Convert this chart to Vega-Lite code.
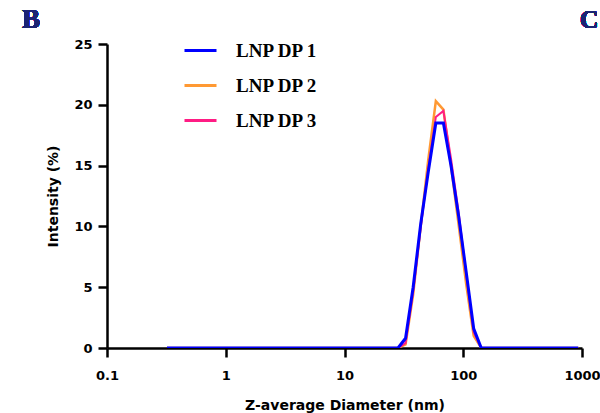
{
  "$schema": "https://vega.github.io/schema/vega-lite/v6.json",
  "width": 475,
  "height": 304,
  "autosize": {"type": "none"},
  "padding": {"left": 107, "top": 44, "right": 18, "bottom": 65},
  "background": "white",
  "config": {"view": {"stroke": null}},
  "data": {"values": [
    {"size": 0.32, "intensity": 0, "series": "LNP DP 1"},
    {"size": 28.21, "intensity": 0, "series": "LNP DP 1"},
    {"size": 32.67, "intensity": 0.8, "series": "LNP DP 1"},
    {"size": 37.84, "intensity": 5.0, "series": "LNP DP 1"},
    {"size": 43.82, "intensity": 10.2, "series": "LNP DP 1"},
    {"size": 50.75, "intensity": 14.5, "series": "LNP DP 1"},
    {"size": 58.77, "intensity": 18.5, "series": "LNP DP 1"},
    {"size": 68.06, "intensity": 18.5, "series": "LNP DP 1"},
    {"size": 78.82, "intensity": 15.0, "series": "LNP DP 1"},
    {"size": 91.28, "intensity": 10.9, "series": "LNP DP 1"},
    {"size": 105.7, "intensity": 6.3, "series": "LNP DP 1"},
    {"size": 122.4, "intensity": 1.6, "series": "LNP DP 1"},
    {"size": 141.8, "intensity": 0, "series": "LNP DP 1"},
    {"size": 930, "intensity": 0, "series": "LNP DP 1"},
    {"size": 0.32, "intensity": 0, "series": "LNP DP 2"},
    {"size": 28.21, "intensity": 0, "series": "LNP DP 2"},
    {"size": 32.67, "intensity": 0.3, "series": "LNP DP 2"},
    {"size": 37.84, "intensity": 4.4, "series": "LNP DP 2"},
    {"size": 43.82, "intensity": 10.0, "series": "LNP DP 2"},
    {"size": 50.75, "intensity": 15.5, "series": "LNP DP 2"},
    {"size": 58.77, "intensity": 20.3, "series": "LNP DP 2"},
    {"size": 68.06, "intensity": 19.6, "series": "LNP DP 2"},
    {"size": 78.82, "intensity": 15.0, "series": "LNP DP 2"},
    {"size": 91.28, "intensity": 10.2, "series": "LNP DP 2"},
    {"size": 105.7, "intensity": 5.3, "series": "LNP DP 2"},
    {"size": 122.4, "intensity": 1.0, "series": "LNP DP 2"},
    {"size": 141.8, "intensity": 0, "series": "LNP DP 2"},
    {"size": 930, "intensity": 0, "series": "LNP DP 2"},
    {"size": 0.32, "intensity": 0, "series": "LNP DP 3"},
    {"size": 28.21, "intensity": 0, "series": "LNP DP 3"},
    {"size": 32.67, "intensity": 0.4, "series": "LNP DP 3"},
    {"size": 37.84, "intensity": 4.6, "series": "LNP DP 3"},
    {"size": 43.82, "intensity": 9.9, "series": "LNP DP 3"},
    {"size": 50.75, "intensity": 14.8, "series": "LNP DP 3"},
    {"size": 58.77, "intensity": 19.0, "series": "LNP DP 3"},
    {"size": 68.06, "intensity": 19.5, "series": "LNP DP 3"},
    {"size": 78.82, "intensity": 15.6, "series": "LNP DP 3"},
    {"size": 91.28, "intensity": 11.2, "series": "LNP DP 3"},
    {"size": 105.7, "intensity": 6.1, "series": "LNP DP 3"},
    {"size": 122.4, "intensity": 1.3, "series": "LNP DP 3"},
    {"size": 141.8, "intensity": 0, "series": "LNP DP 3"},
    {"size": 930, "intensity": 0, "series": "LNP DP 3"}
  ]},
  "encoding": {
    "x": {"field": "size", "type": "quantitative",
      "scale": {"type": "log", "domain": [0.1, 1000], "nice": false},
      "axis": {"title": "Z-average Diameter (nm)", "values": [0.1, 1, 10, 100, 1000], "format": "~g", "grid": false,
        "domainColor": "black", "domainWidth": 2.5, "tickColor": "black", "tickWidth": 2.5, "tickSize": 9,
        "labelFont": "DejaVu Sans", "labelFontWeight": "bold", "labelFontSize": 13, "labelColor": "black", "labelPadding": 12, "labelFlush": false,
        "titleFont": "DejaVu Sans", "titleFontWeight": "bold", "titleFontSize": 14, "titleColor": "black", "titlePadding": 16}},
    "y": {"field": "intensity", "type": "quantitative",
      "scale": {"domain": [0, 25], "nice": false},
      "axis": {"title": "Intensity (%)", "values": [0, 5, 10, 15, 20, 25], "grid": false,
        "domainColor": "black", "domainWidth": 2.5, "tickColor": "black", "tickWidth": 2.5, "tickSize": 9,
        "labelFont": "DejaVu Sans", "labelFontWeight": "bold", "labelFontSize": 13, "labelColor": "black", "labelPadding": 6,
        "titleFont": "DejaVu Sans", "titleFontWeight": "bold", "titleFontSize": 14, "titleColor": "black", "titlePadding": 13}},
    "color": {"field": "series", "type": "nominal",
      "scale": {"domain": ["LNP DP 1", "LNP DP 2", "LNP DP 3"], "range": ["#0000ff", "#ff9933", "#ff1c84"]},
      "legend": {"title": null, "orient": "none", "legendX": 76, "legendY": -11, "symbolType": "stroke", "symbolSize": 1024, "symbolStrokeWidth": 3,
        "labelFont": "Liberation Serif", "labelFontWeight": "bold", "labelFontSize": 19, "labelColor": "black", "labelOffset": 18, "rowPadding": 7, "padding": 0}}
  },
  "layer": [
    {"transform": [{"filter": "datum.series === 'LNP DP 2'"}], "mark": {"type": "line", "strokeWidth": 2.5, "clip": true}},
    {"transform": [{"filter": "datum.series === 'LNP DP 3'"}], "mark": {"type": "line", "strokeWidth": 2, "clip": true}},
    {"transform": [{"filter": "datum.series === 'LNP DP 1'"}], "mark": {"type": "line", "strokeWidth": 3, "clip": true}},
    {"mark": {"type": "text", "text": "B", "font": "Liberation Serif", "fontWeight": "bold", "fontSize": 27, "align": "left", "baseline": "middle", "clip": false},
     "encoding": {"x": {"datum": 0.0192}, "y": {"datum": 27}, "color": {"value": "#1c2473"}}},
    {"mark": {"type": "text", "text": "C", "font": "Liberation Serif", "fontWeight": "bold", "fontSize": 26, "align": "left", "baseline": "middle", "clip": false},
     "encoding": {"x": {"datum": 955}, "y": {"datum": 27}, "color": {"value": "#1c2473"}}}
  ]
}
